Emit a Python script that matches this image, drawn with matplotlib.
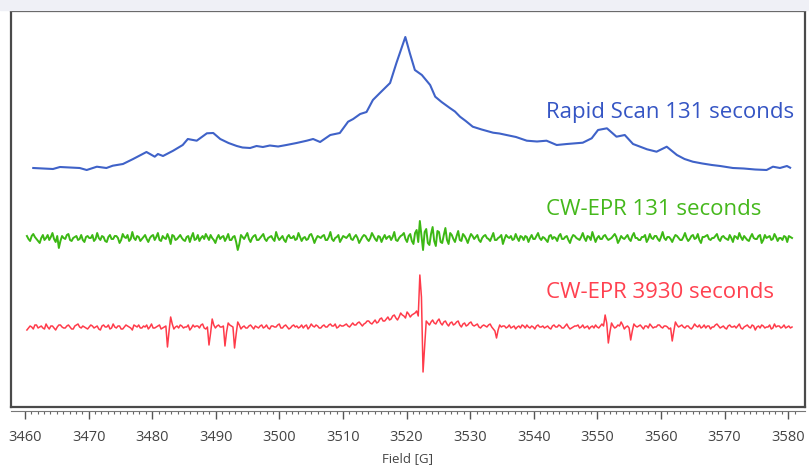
import numpy as np
import matplotlib.pyplot as plt
from matplotlib.patches import Rectangle

plt.rcParams['font.family'] = ['Open Sans', 'DejaVu Sans']

# Rapid scan spectrum (field in G, intensity above its baseline)
rs_field = [3461.3, 3464.4, 3465.5, 3468.6, 3469.7, 3471.3, 3472.8, 3473.8, 3475.4, 3477.0,
            3479.1, 3480.4, 3480.9, 3481.7, 3483.3, 3484.8, 3485.6, 3487.0, 3488.6, 3489.6,
            3490.7, 3492.0, 3493.3, 3494.2, 3495.4, 3496.4, 3497.4, 3498.5, 3499.8, 3501.1,
            3502.7, 3504.3, 3505.3, 3506.4, 3508.0, 3509.5, 3510.8, 3511.6, 3512.7, 3513.7,
            3514.7, 3515.8, 3517.4, 3518.4, 3519.8, 3520.5, 3521.3, 3522.4, 3523.7, 3524.5,
            3525.5, 3526.8, 3527.6, 3528.4, 3529.3, 3530.4, 3531.8, 3533.6, 3534.6, 3535.7,
            3537.2, 3538.9, 3540.5, 3542.0, 3543.6, 3545.2, 3547.7, 3549.1, 3550.1, 3551.5,
            3553.0, 3554.3, 3555.6, 3557.8, 3559.3, 3560.9, 3562.5, 3563.7, 3565.0, 3566.5,
            3568.0, 3569.3, 3571.3, 3573.0, 3574.8, 3576.6, 3577.6, 3578.7, 3579.8, 3580.3]
rs_signal = [0, -1, 1, 0, -2, 1.3, 0, 2.3, 4, 9,
             16, 11.3, 14, 12, 17.3, 23, 29, 27.3, 34.7, 35,
             29, 25, 22, 20.5, 20, 22, 21, 22.5, 21.5, 23,
             25, 27.3, 29, 26, 33, 35, 46.3, 49, 54, 56,
             68, 75, 85, 105, 131, 115, 98, 93, 83, 71.3,
             66, 60, 56.5, 51.3, 47, 41.3, 38.5, 35.3, 34.5, 33,
             31, 27.3, 26.5, 27.3, 23, 24, 25.3, 29.7, 38, 39.7,
             31.3, 33, 24, 18.7, 16.3, 21.3, 13, 9, 6.3, 4.5,
             3, 2, 0, -0.5, -1.5, -2, 1.3, 0, 2, 0.3]

# CW-EPR traces, sampled evenly over the sweep (a = even samples, b = odd samples)
cw_start, cw_end = 3460.3, 3580.6
cw131_a = [2, -3, 4, -1, -5, 3, 0, -2, 5, -4, -10, 2, -1, 4, -3, 1, -2, 3, -4, 2,
           0, -3, 5, -2, 1, -4, 3, -1, 2, -5, 4, 0, -3, 6, -2, 1, -1, 3, -4, 2,
           -2, 5, -3, 0, 4, -6, 2, -1, 3, -2, 1, -4, 5, -1, -3, 2, 4, -2, 0, -5,
           3, 1, -3, 4, -2, 2, -12, 3, -1, 5, -4, 2, -2, 0, 4, -3, 1, -1, 6, -2,
           2, -4, 3, 0, -2, 5, -3, 1, -1, 4, -5, 2, 0, 3, -2, 6, -3, 1, -4, 2,
           0, 4, -2, 3, -5, 1, 2, -3, 5, -1, 2, -4, 3, 1, -2, 6, -3, 2, 5, -4,
           4, -6, 8, 17, -12, 9, -7, 11, -8, 6, -5, 10, -6, 3, -4, 7, -3, 2, -5, 4,
           -1, 3, -4, 2, 0, -3, 5, -2, 1, -6, 3, 0, -2, 4, -3, 1, 2, -4, 3, -1,
           5, -2, 0, -4, 3, 1, -3, 4, -1, 2, -5, 3, 0, -2, 5, -3, 1, 6, -4, 2,
           -1, 3, -2, 0, 4, -5, 2, -1, 3, -3, 5, 0, -2, 1, -4, 4, -1, 2, -3, 6,
           -2, 1, -4, 3, 0, -2, 5, -3, 2, -1, 4, -5, 1, 3, -2, 0, 4, -3, 2, -1,
           3, -4, 1, 5, -2, 0, -3, 4, -1, 2, -5, 3, 1, -2, 4, -3, 0, 2, -4, 1]
cw131_b = [-1, 2, 1, -3, 0, -2, 3, 1, -1, 2, -3, 0, 3, -2, 0, 2, -1, -2, 1, 0,
           3, -1, 0, 2, -3, 1, -1, 2, 0, -2, 1, 3, -1, 0, 2, -3, 1, -1, 0, 3,
           1, -2, 2, -1, 0, 3, -2, 1, 0, -3, 2, 1, -2, 3, 0, -1, 1, 3, -2, 0,
           -1, 2, 0, -2, 1, -4, -6, 1, 2, -1, 0, 3, -2, 2, -1, 0, 2, -3, 1, 0,
           -2, 1, 0, 2, -1, 1, 0, -2, 3, 0, -1, 1, 2, -2, 1, -1, 0, 3, -1, 1,
           2, -1, 1, 0, -2, 3, -1, 0, 2, -3, 1, 0, -1, 2, 1, -2, 0, 3, -1, 2,
           -3, 5, -4, 2, 6, -5, 4, -3, 7, -4, 3, -2, 5, -1, 2, -2, 4, -1, 0, 2,
           1, -2, 0, 3, -1, 1, -2, 0, 3, -1, 1, 2, -1, 0, 2, -2, 1, 0, -1, 2,
           0, 1, -2, 2, -1, 0, 2, -1, 1, -2, 0, 2, -1, 1, 0, 2, -2, 1, 0, -1,
           2, 0, -1, 2, 1, -2, 0, 1, -1, 2, 0, -2, 1, 3, -1, 0, 2, -1, 1, 0,
           1, -1, 0, 2, -2, 1, 0, -1, 3, 0, -2, 1, 2, -1, 0, 2, -1, 1, 0, -2,
           0, 2, -1, 1, 2, -2, 1, 0, -1, 3, -2, 0, 2, -1, 1, 0, -2, 1, 2, 0]
cw3930_a = [-3, 1, -2, 2, 0, -1, 3, -2, 1, -3, 2, 0, -1, 2, -2, 1, 3, -1, 0, -2,
            2, -1, 1, -3, 2, 0, -2, 3, -1, 1, -2, 2, 0, -3, 1, 2, -1, 0, -2, 3,
            -1, 1, -2, 0, -20, 10, -2, 1, 2, -1, 0, -3, 2, 1, -1, 3, -2, -18, 8, -1,
            2, 0, -19, 4, 1, -21, 5, -2, 1, -1, 2, -2, 0, 1, -1, 2, -2, 1, 0, 3,
            -1, 2, -2, 1, 0, -1, 2, 1, -2, 3, 0, 1, -1, 2, 0, 3, 1, -1, 2, 1,
            3, 0, 4, 2, 5, 1, 4, 6, 3, 7, 5, 9, 6, 10, 8, 12, 7, 14, 11, 15,
            10, 13, 16, 52, -45, 6, 2, 7, 3, 8, 2, 6, 1, 5, 3, 6, 0, 4, 2, 5,
            1, 3, -1, 2, 0, 3, -2, -11, 2, 1, -1, 2, 0, -2, 1, 2, -1, 0, 1, -2,
            2, 0, -1, 1, -2, 2, 0, 1, -1, 3, -2, 0, 1, -1, 2, 0, -2, 1, 2, -1,
            3, 12, -16, 4, -1, 2, 5, -2, 1, -13, 3, 0, 2, -2, 1, 3, -1, 0, 2, -1,
            1, -2, -14, 5, 0, 2, -1, 1, -2, 3, 0, -1, 2, 1, -2, 0, 3, -1, 1, -2,
            2, 0, -1, 3, -2, 1, 0, 2, -3, 1, 2, -1, 0, -2, 3, 1, -1, 2, 0, -1]
cw3930_b = [-1, 0, 2, -1, 1, -2, 0, 1, -1, 0, 2, -1, 1, 0, -2, 2, 0, 1, -1, 0,
            1, 0, -2, 1, 0, 2, -1, 0, 1, -2, 0, 1, -1, 2, 0, -1, 1, 2, 0, -1,
            0, 2, -1, 1, -4, 3, 0, -1, 1, 0, 2, -1, 0, 1, 2, -1, 0, -6, 2, 1,
            0, 1, -5, 2, 0, -7, 2, 0, -1, 1, 0, 1, -1, 2, 0, -1, 1, 0, 2, -1,
            1, 0, -1, 2, 1, 0, -1, 2, 0, 1, 2, -1, 1, 0, 2, 1, 3, 0, 1, 2,
            1, 2, 2, 4, 3, 3, 6, 4, 5, 4, 8, 6, 8, 7, 11, 9, 10, 12, 9, 13,
            12, 14, 11, 30, -20, 4, 5, 4, 6, 4, 5, 3, 4, 2, 5, 2, 3, 1, 4, 2,
            2, 0, 1, 1, 2, 0, -4, -3, 0, 1, 0, -1, 1, 0, -1, 1, 2, -1, 0, 1,
            0, 1, 0, -1, 1, 0, 2, -1, 1, 0, -1, 1, 2, 0, -1, 1, 0, -1, 0, 1,
            1, 4, -5, 1, 0, 1, 2, 0, -1, -4, 1, 1, 0, 1, -1, 1, 0, 2, 0, 1,
            0, -1, -4, 2, 1, 0, 1, -1, 0, 1, 2, 0, -1, 1, 0, 2, 1, 0, -1, 1,
            0, 1, 1, -1, 0, 2, -1, 1, 0, -1, 1, 0, 2, -1, 0, 1, 0, -1, 1, 0]

labels = ['Rapid Scan 131 seconds', 'CW-EPR 131 seconds', 'CW-EPR 3930 seconds']
offsets = [239, 169, 80]
colors = ['#3f62c8', '#3cb814', '#ff3b4a']
text_colors = ['#3555c4', '#45b81c', '#ff4150']

cw131 = np.column_stack([cw131_a, cw131_b]).ravel()
cw3930 = np.column_stack([cw3930_a, cw3930_b]).ravel()

fig = plt.figure(figsize=(8.09, 4.68), dpi=100)
fig.patches.append(Rectangle((0, 1 - 10 / 468), 1, 10 / 468, transform=fig.transFigure,
                             color='#eff0f6', zorder=0))
ax = fig.add_axes([11 / 809, 61 / 468, 794 / 809, 396 / 468])

f131 = np.linspace(cw_start, cw_end, len(cw131))
f3930 = np.linspace(cw_start, cw_end, len(cw3930))
ax.plot(rs_field, np.array(rs_signal) + offsets[0], color=colors[0], lw=1.5)
ax.plot(f131, cw131 + offsets[1], color=colors[1], lw=1.4)
ax.plot(f3930, cw3930 + offsets[2], color=colors[2], lw=1.1)

text_y = [289, 192, 109]
for lab, ty, c in zip(labels, text_y, text_colors):
    ax.text(3541.9, ty, lab, color=c, fontsize=16, ha='left', va='baseline')

ax.set_xlim(3457.8, 3582.64)
ax.set_ylim(0, 396)
ax.set_xticks([])
ax.set_yticks([])
for s in ax.spines.values():
    s.set_color('#4a4a4a')
    s.set_linewidth(1.6)

sec = ax.secondary_xaxis(-4 / 396)
sec.set_xticks(np.arange(3460, 3581, 10))
sec.set_xticks(np.arange(3460, 3582, 1), minor=True)
sec.spines['bottom'].set_color('#777777')
sec.spines['bottom'].set_linewidth(0.8)
sec.tick_params(which='major', length=5.5, width=1, color='#555555', pad=8.5,
                labelsize=10.5, labelcolor='#444444')
sec.tick_params(which='minor', length=2.5, width=0.8, color='#666666')
sec.set_xlabel('Field [G]', fontsize=9.5, color='#444444', labelpad=5)

fig.savefig('out.png', dpi=100)
